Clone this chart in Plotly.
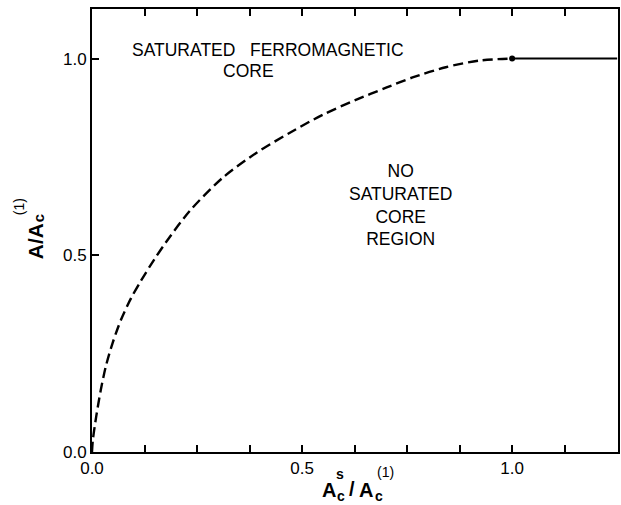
import plotly.graph_objects as go

# ---- data ----
curve_x = [0, 0.002, 0.01, 0.021, 0.033, 0.049, 0.069, 0.093, 0.117, 0.148, 0.176,
           0.232, 0.311, 0.391, 0.47, 0.549, 0.628, 0.70, 0.763, 0.842, 0.922, 1.0]
curve_y = [0, 0.03, 0.09, 0.158, 0.218, 0.277, 0.336, 0.391, 0.436, 0.489, 0.533,
           0.612, 0.697, 0.76, 0.811, 0.857, 0.895, 0.926, 0.952, 0.978, 0.995, 1.0]
flat_x = [1.0, 1.25]
flat_y = [1.0, 1.0]
point_x = [1.0]
point_y = [1.0]

x_tickvals = [0, 0.125, 0.25, 0.375, 0.5, 0.625, 0.75, 0.875, 1.0, 1.125, 1.25]
x_ticktext = ["0.0", "", "", "", "0.5", "", "", "", "1.0", "", ""]
y_tickvals = [0, 0.5, 1.0]
y_ticktext = ["0.0", "0.5", "1.0"]

# ---- layout geometry ----
W_FIG, H_FIG = 621, 505
L, R, T, B = 92, 620, 9, 452
PW, PH = R - L, B - T


def px(x):
    return (x - L) / PW


def py(y):
    return (B - y) / PH


FONT = "Liberation Sans, Arial, Helvetica, sans-serif"

fig = go.Figure()
fig.add_trace(go.Scatter(x=curve_x, y=curve_y, mode="lines",
                         line=dict(color="black", width=2.4, dash="10px,5px",
                                   shape="spline", smoothing=0.8),
                         hoverinfo="skip", showlegend=False))
fig.add_trace(go.Scatter(x=flat_x, y=flat_y, mode="lines",
                         line=dict(color="black", width=2),
                         hoverinfo="skip", showlegend=False))
fig.add_trace(go.Scatter(x=point_x, y=point_y, mode="markers",
                         marker=dict(color="black", size=6),
                         hoverinfo="skip", showlegend=False))

fig.update_layout(
    width=W_FIG, height=H_FIG,
    margin=dict(l=L, r=W_FIG - R, t=T, b=H_FIG - B, pad=0),
    paper_bgcolor="white", plot_bgcolor="white",
    font=dict(family=FONT, color="black", size=17),
    showlegend=False,
)
fig.update_xaxes(range=[0, 1.252], tickvals=x_tickvals, ticktext=x_ticktext,
                 ticks="inside", ticklen=7, tickwidth=1.5, tickcolor="black",
                 showline=True, linewidth=2, linecolor="black", mirror="ticks",
                 showgrid=False, zeroline=False,
                 tickfont=dict(size=17, family=FONT))
fig.update_yaxes(range=[0, 1.126], tickvals=y_tickvals, ticktext=y_ticktext,
                 ticks="inside", ticklen=7, tickwidth=1.5, tickcolor="black",
                 showline=True, linewidth=2, linecolor="black", mirror=True,
                 showgrid=False, zeroline=False,
                 tickfont=dict(size=17, family=FONT))

ann = []


def add(text, x, y, size, bold=False, angle=0, xanchor="center", yanchor="middle"):
    ann.append(dict(text=("<b>%s</b>" % text) if bold else text,
                    x=px(x), y=py(y), xref="paper", yref="paper",
                    showarrow=False, textangle=angle,
                    xanchor=xanchor, yanchor=yanchor,
                    font=dict(size=size, family=FONT, color="black")))


# region labels
add("SATURATED&nbsp;&nbsp;&nbsp;FERROMAGNETIC", 269, 50, 17.5)
add("CORE", 249, 71, 17.5)
add("NO<br>SATURATED<br>CORE<br>REGION", 402, 205, 17.5)

# x-axis title: A_c^s / A_c^(1)
add("A", 330, 490, 20, bold=True)
add("s", 341, 474, 14, bold=True)
add("c", 342, 496, 14, bold=True)
add("/", 353, 489, 20, bold=True)
add("A", 367, 490, 20, bold=True)
add("c", 380, 496, 14, bold=True)
add("(1)", 387, 472, 14)

# y-axis title: A/A_c^(1) (rotated)
add("A/A", 35, 241, 21, bold=True, angle=-90)
add("c", 38, 218, 15, bold=True, angle=-90)
add("(1)", 19, 207, 14, angle=-90)

fig.update_layout(annotations=ann)

fig.write_html("out.html")
